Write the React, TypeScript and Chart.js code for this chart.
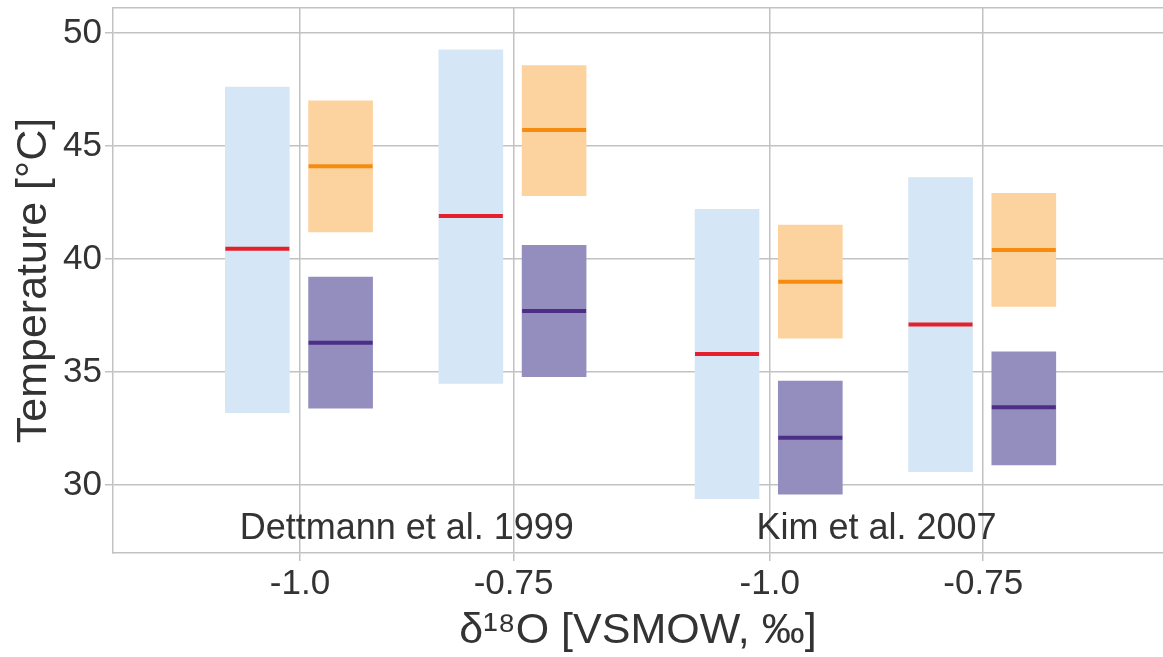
import React, { useEffect, useRef } from "react";
import { Chart, registerables } from "chart.js";
Chart.register(...registerables);

// x positions of the four δ18O columns (two groups) and their tick labels
const tickPositions = [1, 2, 3.2, 4.2];
const tickLabels = ["-1.0", "-0.75", "-1.0", "-0.75"];
const groupNames = ["Dettmann et al. 1999", "Kim et al. 2007"];
const yTicks = [30, 35, 40, 45, 50];

// light blue ranges with red median
const blueLow = [33.2, 34.5, 29.4, 30.6];
const blueHigh = [47.6, 49.25, 42.2, 43.6];
const blueMid = [40.45, 41.9, 35.8, 37.1];
// orange ranges with orange median
const orangeLow = [41.2, 42.8, 36.5, 37.9];
const orangeHigh = [47.0, 48.55, 41.5, 42.9];
const orangeMid = [44.1, 45.7, 39.0, 40.4];
// purple ranges with dark purple median
const purpleLow = [33.4, 34.8, 29.6, 30.9];
const purpleHigh = [39.2, 40.6, 34.6, 35.9];
const purpleMid = [36.3, 37.7, 32.1, 33.45];

const X_MIN = 0.124;
const X_MAX = 5.042;
const Y_MIN = 27.0;
const Y_MAX = 51.1;
const LEFT = -0.2;
const RIGHT = 0.19;
const GROUP_LABEL_Y = 28.05;

const FONT = '"Liberation Sans", Arial, sans-serif';
const TEXT = "#333333";
const GRID = "#c2c2c2";

const groupLabelPlugin = {
  id: "groupLabels",
  afterDatasetsDraw(chart: any) {
    const { ctx, scales } = chart;
    const x = scales.x;
    const y = scales.y;
    ctx.save();
    ctx.font = `36px ${FONT}`;
    ctx.fillStyle = TEXT;
    ctx.textAlign = "center";
    ctx.textBaseline = "middle";
    groupNames.forEach((name, g) => {
      const cx = (tickPositions[2 * g] + tickPositions[2 * g + 1]) / 2;
      ctx.fillText(name, x.getPixelForValue(cx), y.getPixelForValue(GROUP_LABEL_Y));
    });
    ctx.restore();
  },
};

const noPad = (s: any) => {
  s.paddingTop = 0;
  s.paddingBottom = 0;
  s.paddingLeft = 0;
  s.paddingRight = 0;
};

export default function App() {
  const ref = useRef<HTMLCanvasElement | null>(null);

  useEffect(() => {
    if (!ref.current) return;
    const bar = (low: number[], high: number[], off: number, color: string) => ({
      type: "bar" as const,
      data: tickPositions.map((p, i) => ({ x: p + off, y: [low[i], high[i]] })),
      backgroundColor: color,
      borderWidth: 0,
      barThickness: 64,
      grouped: true,
      stack: "s",
      order: 2,
    });
    const mid = (vals: number[], off: number, color: string) => ({
      type: "scatter" as const,
      data: tickPositions.map((p, i) => ({ x: p + off, y: vals[i] })),
      pointStyle: "line",
      pointRadius: 32,
      pointHoverRadius: 32,
      borderColor: color,
      backgroundColor: color,
      borderWidth: 4,
      pointBorderWidth: 4,
      showLine: false,
      clip: false,
      order: 0,
    });

    const chart = new Chart(ref.current, {
      type: "bar",
      data: {
        datasets: [
          bar(blueLow, blueHigh, LEFT, "#d5e6f6"),
          bar(orangeLow, orangeHigh, RIGHT, "#fcd39e"),
          bar(purpleLow, purpleHigh, RIGHT, "#938ebe"),
          mid(blueMid, LEFT, "#e3202b"),
          mid(orangeMid, RIGHT, "#f58c10"),
          mid(purpleMid, RIGHT, "#4b2e86"),
        ] as any,
      },
      options: {
        animation: false,
        responsive: true,
        maintainAspectRatio: false,
        events: [],
        layout: { padding: 0, autoPadding: false },
        plugins: { legend: { display: false }, tooltip: { enabled: false } },
        scales: {
          x: {
            type: "linear",
            position: "bottom",
            min: X_MIN,
            max: X_MAX,
            offset: false,
            afterBuildTicks: (s: any) => {
              s.ticks = tickPositions.map((v) => ({ value: v }));
            },
            afterFit: (s: any) => {
              s.height = 104;
              noPad(s);
            },
            ticks: {
              autoSkip: false,
              maxRotation: 0,
              padding: 2,
              color: TEXT,
              font: { family: FONT, size: 35 },
              callback: (v: any) => {
                const i = tickPositions.indexOf(Number(v));
                return i >= 0 ? tickLabels[i] : "";
              },
            },
            grid: { offset: false, color: GRID, lineWidth: 1.5, tickLength: 8 },
            border: { display: true, color: GRID, width: 1.5 },
            title: {
              display: true,
              text: "δ¹⁸O [VSMOW, ‰]",
              color: TEXT,
              font: { family: FONT, size: 43 },
              padding: { top: 0, bottom: 0 },
            },
          },
          x2: {
            type: "linear",
            position: "top",
            min: X_MIN,
            max: X_MAX,
            ticks: { display: false },
            grid: { display: false, drawTicks: false },
            border: { display: true, color: GRID, width: 1.5 },
            afterFit: (s: any) => {
              s.height = 8;
              noPad(s);
            },
          },
          y: {
            type: "linear",
            min: Y_MIN,
            max: Y_MAX,
            stacked: false,
            afterBuildTicks: (s: any) => {
              s.ticks = yTicks.map((v) => ({ value: v }));
            },
            afterFit: (s: any) => {
              s.width = 113;
              noPad(s);
            },
            ticks: {
              padding: 3,
              color: TEXT,
              font: { family: FONT, size: 35 },
            },
            grid: { color: GRID, lineWidth: 1.5, tickLength: 8 },
            border: { display: true, color: GRID, width: 1.5 },
            title: {
              display: true,
              text: "Temperature [°C]",
              color: TEXT,
              font: { family: FONT, size: 43 },
              padding: { top: 8, bottom: 0 },
            },
          },
        },
      } as any,
      plugins: [groupLabelPlugin],
    });
    return () => chart.destroy();
  }, []);

  return (
    <div style={{ position: "fixed", left: 0, top: 0, width: 1163, height: 657 }}>
      <canvas ref={ref} />
    </div>
  );
}
